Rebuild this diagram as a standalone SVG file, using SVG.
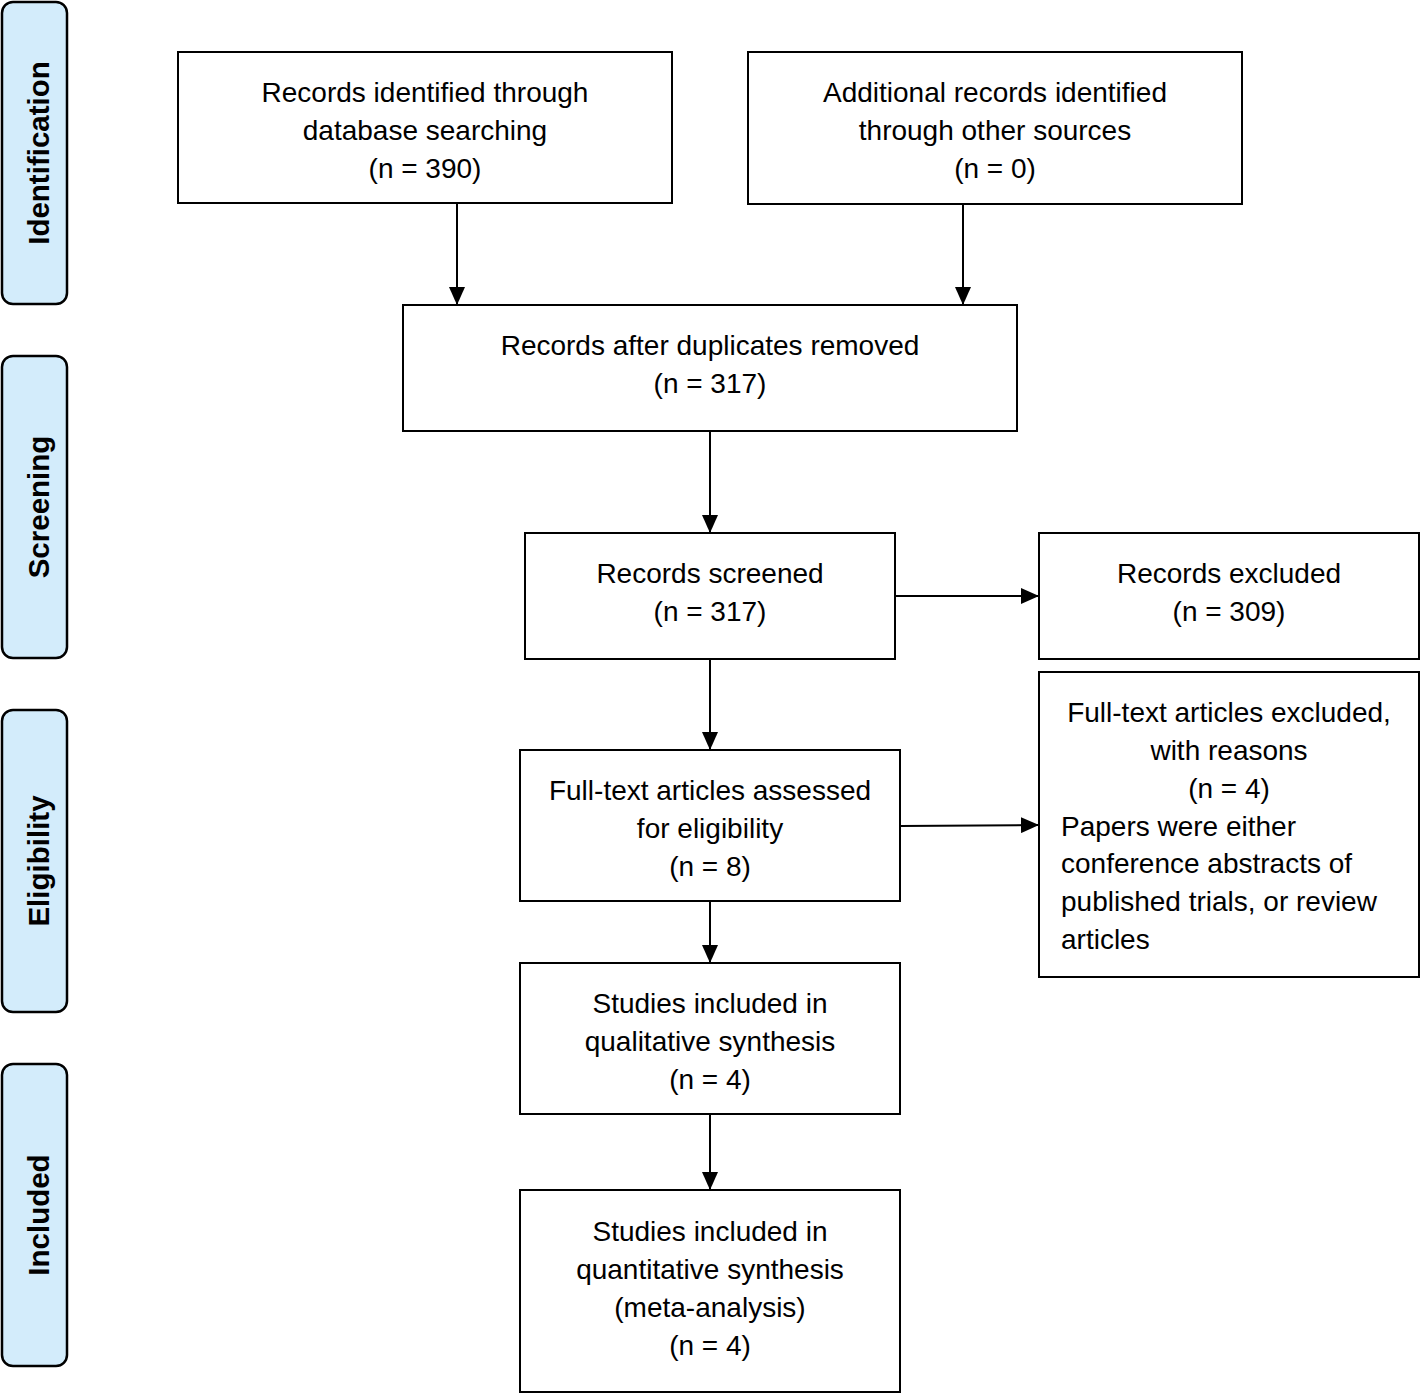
<svg xmlns="http://www.w3.org/2000/svg" width="1420" height="1394" viewBox="0 0 1420 1394">
<style>
.box{fill:#fff;stroke:#000;stroke-width:2}
.side{fill:#d3ecfb;stroke:#000;stroke-width:2.5}
.t{font-family:"Liberation Sans",Arial,sans-serif;font-size:28px;fill:#000;text-anchor:middle}
.tl{font-family:"Liberation Sans",Arial,sans-serif;font-size:28px;fill:#000}
.s{font-family:"Liberation Sans",Arial,sans-serif;font-size:29.5px;font-weight:bold;fill:#000;text-anchor:middle}
.c{stroke:#000;stroke-width:2;fill:none;marker-end:url(#ah)}
</style>
<defs>
<marker id="ah" markerWidth="18" markerHeight="16" refX="17" refY="8" orient="auto" markerUnits="userSpaceOnUse" viewBox="0 0 18 16">
<path d="M0,0 L18,8 L0,16 z" fill="#000"/>
</marker>
</defs>
<rect width="1420" height="1394" fill="#fff"/>
<g id="side-identification"><rect class="side" x="2" y="2" width="65" height="302" rx="11"/><text class="s" transform="translate(49,153) rotate(-90)">Identification</text></g>
<g id="side-screening"><rect class="side" x="2" y="356" width="65" height="302" rx="11"/><text class="s" transform="translate(49,507) rotate(-90)">Screening</text></g>
<g id="side-eligibility"><rect class="side" x="2" y="710" width="65" height="302" rx="11"/><text class="s" transform="translate(49,861) rotate(-90)">Eligibility</text></g>
<g id="side-included"><rect class="side" x="2" y="1064" width="65" height="302" rx="11"/><text class="s" transform="translate(49,1215) rotate(-90)">Included</text></g>

<g id="connectors">
<line class="c" x1="457" y1="203" x2="457" y2="304"/>
<line class="c" x1="963" y1="204" x2="963" y2="304"/>
<line class="c" x1="710" y1="431" x2="710" y2="532"/>
<line class="c" x1="895" y1="596" x2="1038" y2="596"/>
<line class="c" x1="710" y1="659" x2="710" y2="749"/>
<line class="c" x1="900" y1="826" x2="1038" y2="825"/>
<line class="c" x1="710" y1="901" x2="710" y2="962"/>
<line class="c" x1="710" y1="1114" x2="710" y2="1189"/>
</g>

<g id="n1"><rect class="box" x="178" y="52" width="494" height="151"/>
<text class="t" x="425" y="102">Records identified through</text>
<text class="t" x="425" y="140">database searching</text>
<text class="t" x="425" y="178">(n = 390)</text></g>
<g id="n2"><rect class="box" x="748" y="52" width="494" height="152"/>
<text class="t" x="995" y="102">Additional records identified</text>
<text class="t" x="995" y="140">through other sources</text>
<text class="t" x="995" y="178">(n = 0)</text></g>
<g id="n3"><rect class="box" x="403" y="305" width="614" height="126"/>
<text class="t" x="710" y="355">Records after duplicates removed</text>
<text class="t" x="710" y="393">(n = 317)</text></g>
<g id="n4"><rect class="box" x="525" y="533" width="370" height="126"/>
<text class="t" x="710" y="583">Records screened</text>
<text class="t" x="710" y="621">(n = 317)</text></g>
<g id="n5"><rect class="box" x="1039" y="533" width="380" height="126"/>
<text class="t" x="1229" y="583">Records excluded</text>
<text class="t" x="1229" y="621">(n = 309)</text></g>
<g id="n6"><rect class="box" x="520" y="750" width="380" height="151"/>
<text class="t" x="710" y="800">Full-text articles assessed</text>
<text class="t" x="710" y="838">for eligibility</text>
<text class="t" x="710" y="876">(n = 8)</text></g>
<g id="n7"><rect class="box" x="1039" y="672" width="380" height="305"/>
<text class="t" x="1229" y="722">Full-text articles excluded,</text>
<text class="t" x="1229" y="760">with reasons</text>
<text class="t" x="1229" y="798">(n = 4)</text>
<text class="tl" x="1061" y="836">Papers were either</text>
<text class="tl" x="1061" y="873">conference abstracts of</text>
<text class="tl" x="1061" y="911">published trials, or review</text>
<text class="tl" x="1061" y="949">articles</text></g>
<g id="n8"><rect class="box" x="520" y="963" width="380" height="151"/>
<text class="t" x="710" y="1013">Studies included in</text>
<text class="t" x="710" y="1051">qualitative synthesis</text>
<text class="t" x="710" y="1089">(n = 4)</text></g>
<g id="n9"><rect class="box" x="520" y="1190" width="380" height="202"/>
<text class="t" x="710" y="1241">Studies included in</text>
<text class="t" x="710" y="1279">quantitative synthesis</text>
<text class="t" x="710" y="1317">(meta-analysis)</text>
<text class="t" x="710" y="1355">(n = 4)</text></g>
</svg>
